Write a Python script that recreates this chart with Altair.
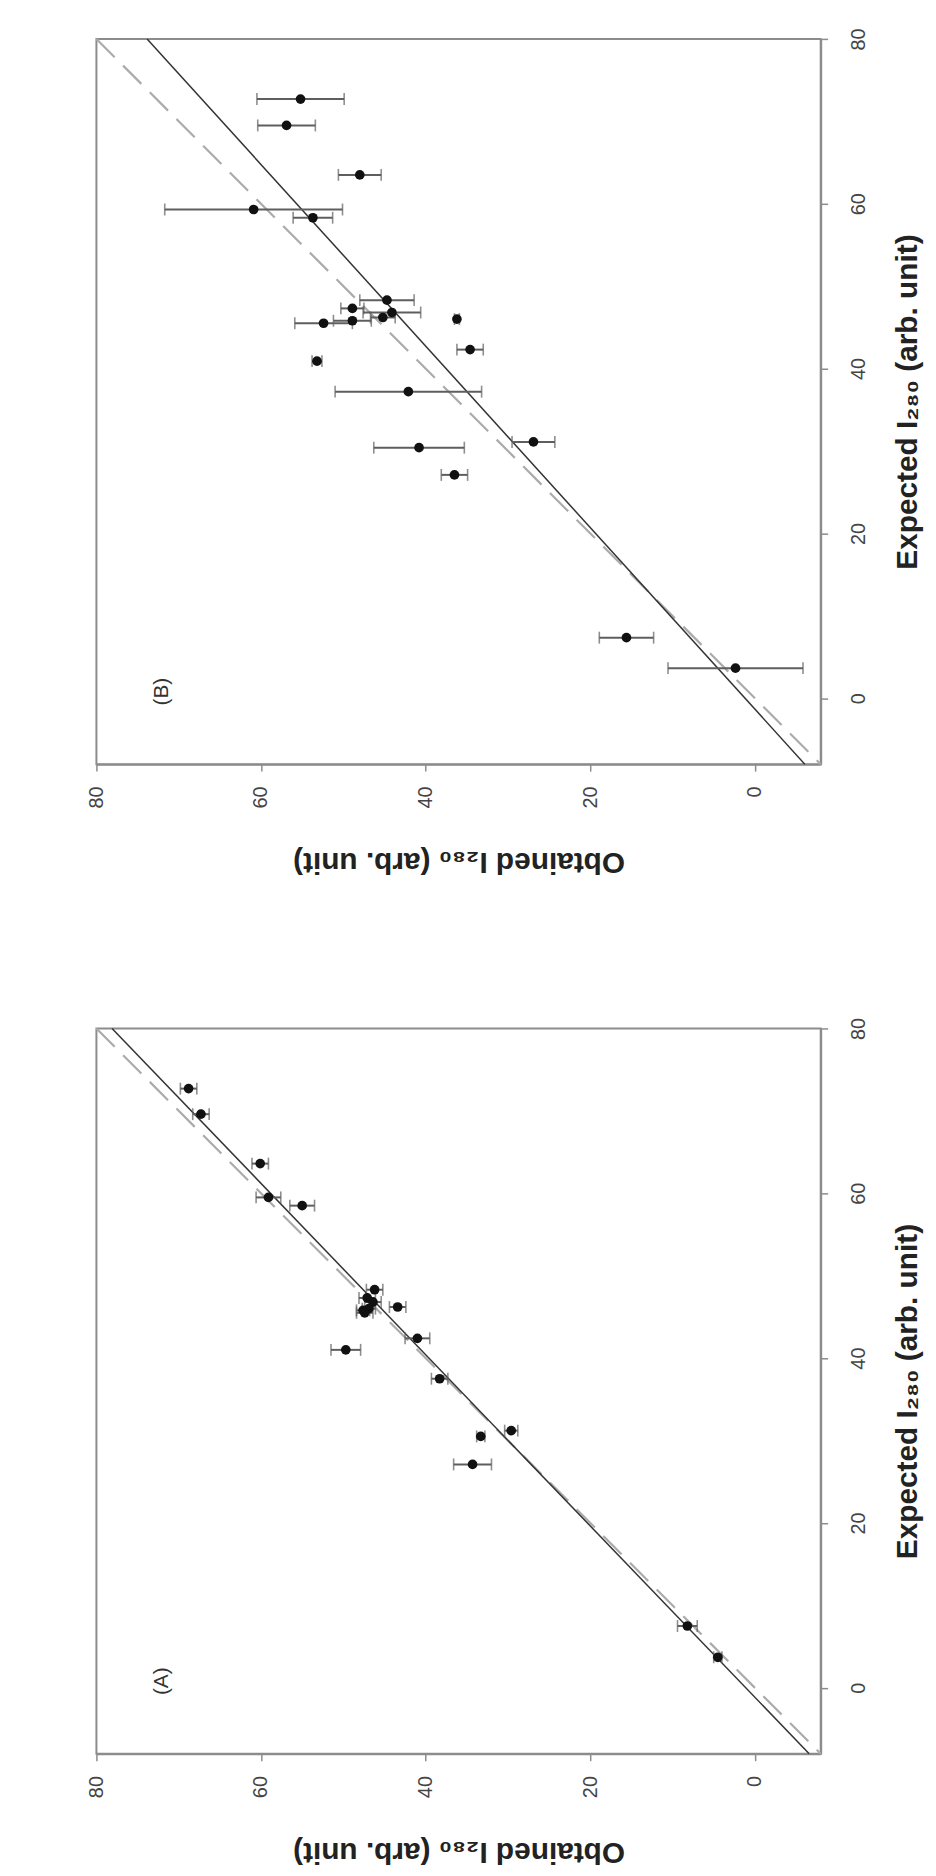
import altair as alt
import pandas as pd

# ---------------- data ----------------
# Panel A
a_expected = [72.7, 69.6, 63.6, 59.5, 58.5, 48.3, 47.3, 46.8, 46.2, 46.0, 45.8, 45.5,
              42.4, 41.0, 37.5, 31.2, 30.5, 27.1, 7.5, 3.7]
a_obtained = [68.8, 67.3, 60.1, 59.1, 55.0, 46.2, 47.1, 46.4, 43.4, 46.9, 47.6, 47.4,
              41.0, 49.7, 38.3, 29.6, 33.3, 34.3, 8.2, 4.5]
a_error = [1.0, 1.0, 1.0, 1.5, 1.5, 1.0, 1.0, 1.0, 1.0, 0.8, 0.8, 1.0,
           1.5, 1.8, 1.0, 0.8, 0.5, 2.3, 1.2, 0.5]
# Panel B
b_expected = [72.7, 69.5, 63.5, 59.3, 58.3, 48.3, 47.3, 46.8, 46.2, 46.0, 45.8, 45.5,
              42.3, 40.9, 37.2, 31.1, 30.4, 27.1, 7.35, 3.65]
b_obtained = [55.2, 56.9, 48.0, 60.9, 53.7, 44.7, 48.9, 44.1, 45.2, 36.2, 48.9, 52.4,
              34.6, 53.2, 42.1, 26.9, 40.8, 36.5, 15.6, 2.35]
b_error = [5.3, 3.5, 2.6, 10.8, 2.4, 3.3, 1.4, 3.5, 1.5, 0.3, 2.3, 3.5,
           1.6, 0.6, 8.9, 2.6, 5.5, 1.6, 3.3, 8.2]
# fitted lines: obtained = slope * expected + intercept
a_fit = (0.9625, 1.1)
b_fit = (0.908, 1.2)

axis_range = [-8, 80]
tick_values = [0, 20, 40, 60, 80]
panel_tags = ["(A)", "(B)"]
tag_position = (72.0, 0.8)   # (obtained, expected)

x_title = "Obtained I\u2082\u2088\u2080 (arb. unit)"
y_title = "Expected I\u2082\u2088\u2080 (arb. unit)"

FONT = "Liberation Sans, Arial, DejaVu Sans, sans-serif"


def panel(exp, obt, err, fit, tag):
    pts = pd.DataFrame({
        "exp": exp, "obt": obt,
        "lo": [o - e for o, e in zip(obt, err)],
        "hi": [o + e for o, e in zip(obt, err)],
    })
    lines = pd.DataFrame({
        "exp": axis_range,
        "ident": axis_range,
        "fit": [fit[0] * e + fit[1] for e in axis_range],
    })
    tag_df = pd.DataFrame({"obt": [tag_position[0]], "exp": [tag_position[1]], "t": [tag]})

    xs = alt.Scale(domain=axis_range, reverse=True, nice=False, zero=False)
    ys = alt.Scale(domain=axis_range, nice=False, zero=False)
    xax = alt.Axis(values=tick_values, title=x_title, orient="bottom",
                   labelAngle=270, labelAlign="right", labelBaseline="middle",
                   labelPadding=15, titleAngle=180, titleBaseline="bottom",
                   titlePadding=39)
    yax = alt.Axis(values=tick_values, title=y_title, orient="right",
                   labelAngle=270, labelAlign="center", labelBaseline="top",
                   labelPadding=21, titleAngle=270, titleBaseline="top",
                   titlePadding=24)

    def X(f):
        return alt.X(f, type="quantitative", scale=xs, axis=xax)

    def Y(f):
        return alt.Y(f, type="quantitative", scale=ys, axis=yax)

    ident = alt.Chart(lines).mark_line(color="#ababab", strokeWidth=2.2,
                                       strokeDash=[26, 12]).encode(x=X("ident"), y=Y("exp"))
    fitl = alt.Chart(lines).mark_line(color="#333333", strokeWidth=1.5).encode(
        x=X("fit"), y=Y("exp"))
    bars = alt.Chart(pts).mark_rule(color="#5e5e5e", strokeWidth=2).encode(
        x=X("lo"), x2="hi", y=Y("exp"))
    cap_lo = alt.Chart(pts).mark_tick(color="#5e5e5e", orient="vertical", size=12,
                                      thickness=1.6).encode(x=X("lo"), y=Y("exp"))
    cap_hi = alt.Chart(pts).mark_tick(color="#5e5e5e", orient="vertical", size=12,
                                      thickness=1.6).encode(x=X("hi"), y=Y("exp"))
    dots = alt.Chart(pts).mark_circle(color="#111111", size=95, opacity=1).encode(
        x=X("obt"), y=Y("exp"))
    label = alt.Chart(tag_df).mark_text(angle=270, fontSize=21, font=FONT,
                                        color="#333333", align="center",
                                        baseline="middle").encode(
        x=X("obt"), y=Y("exp"), text="t:N")
    return alt.layer(ident, fitl, bars, cap_lo, cap_hi, dots, label).properties(
        width=729, height=730)


panel_b = panel(b_expected, b_obtained, b_error, b_fit, panel_tags[1])
panel_a = panel(a_expected, a_obtained, a_error, a_fit, panel_tags[0])

chart = alt.vconcat(panel_b, panel_a, spacing=138).properties(
    padding={"left": 78, "top": 12, "right": 5, "bottom": 5},
    background="white",
).configure_view(
    stroke="#8c8c8c", strokeWidth=2
).configure_axis(
    grid=False, domainColor="#8c8c8c", domainWidth=2,
    tickColor="#8c8c8c", tickWidth=1.5, tickSize=7,
    labelFont=FONT, labelFontSize=20, labelColor="#444444",
    titleFont=FONT, titleFontSize=30, titleFontWeight="bold", titleColor="#222222",
)

chart.save("out.html", embed_options={"renderer": "svg", "actions": False})
